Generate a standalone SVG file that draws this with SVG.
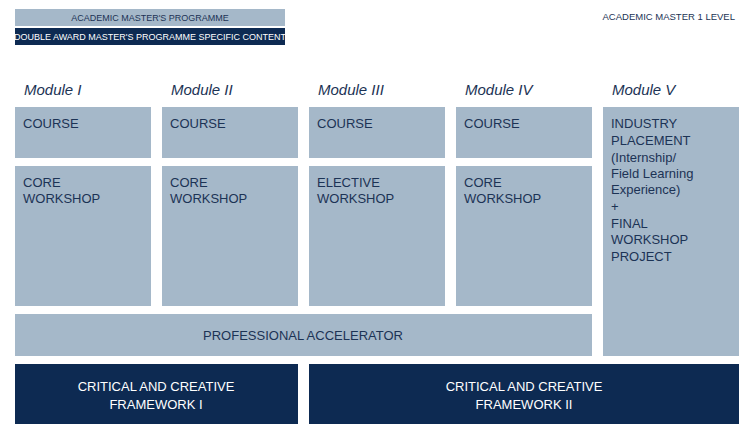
<svg xmlns="http://www.w3.org/2000/svg" width="742" height="428" viewBox="0 0 742 428">
<style>
.l{fill:#a5b8c9}
.d{fill:#0d2a52}
text{font-family:"Liberation Sans",Arial,sans-serif;fill:#1c3355}
.t{font-size:13px}
.h{font-size:15px;font-style:italic}
.w{fill:#fff;font-size:13px}
.s{font-size:9px}
</style>
<rect width="742" height="428" fill="#fff"/>
<g id="legend">
<rect class="l" x="15" y="9" width="270" height="17"/>
<text class="s" x="150" y="21" text-anchor="middle">ACADEMIC MASTER'S PROGRAMME</text>
<rect class="d" x="15" y="28" width="270" height="17"/>
<text class="s" x="150" y="40" text-anchor="middle" style="fill:#fff">DOUBLE AWARD MASTER'S PROGRAMME SPECIFIC CONTENT</text>
<text class="s" x="735" y="20" text-anchor="end" style="font-size:9.5px">ACADEMIC MASTER 1 LEVEL</text>
</g>
<g id="titles">
<text class="h" x="24" y="95">Module I</text>
<text class="h" x="171" y="95">Module II</text>
<text class="h" x="318" y="95">Module III</text>
<text class="h" x="465" y="95">Module IV</text>
<text class="h" x="612" y="95">Module V</text>
</g>
<g id="m1"><rect class="l" x="15" y="107" width="136" height="51"/><text class="t" x="23" y="128">COURSE</text>
<rect class="l" x="15" y="166" width="136" height="140"/><text class="t" x="23" y="187">CORE</text><text class="t" x="23" y="203">WORKSHOP</text></g>
<g id="m2"><rect class="l" x="162" y="107" width="136" height="51"/><text class="t" x="170" y="128">COURSE</text>
<rect class="l" x="162" y="166" width="136" height="140"/><text class="t" x="170" y="187">CORE</text><text class="t" x="170" y="203">WORKSHOP</text></g>
<g id="m3"><rect class="l" x="309" y="107" width="136" height="51"/><text class="t" x="317" y="128">COURSE</text>
<rect class="l" x="309" y="166" width="136" height="140"/><text class="t" x="317" y="187">ELECTIVE</text><text class="t" x="317" y="203">WORKSHOP</text></g>
<g id="m4"><rect class="l" x="456" y="107" width="136" height="51"/><text class="t" x="464" y="128">COURSE</text>
<rect class="l" x="456" y="166" width="136" height="140"/><text class="t" x="464" y="187">CORE</text><text class="t" x="464" y="203">WORKSHOP</text></g>
<g id="m5"><rect class="l" x="603" y="107" width="136" height="249"/>
<text class="t" x="611" y="128">INDUSTRY</text><text class="t" x="611" y="145">PLACEMENT</text><text class="t" x="611" y="162">(Internship/</text><text class="t" x="611" y="178">Field Learning</text><text class="t" x="611" y="194">Experience)</text><text class="t" x="611" y="211">+</text><text class="t" x="611" y="228">FINAL</text><text class="t" x="611" y="244">WORKSHOP</text><text class="t" x="611" y="261">PROJECT</text></g>
<g id="accel"><rect class="l" x="15" y="314" width="577" height="42"/><text class="t" x="303" y="340" text-anchor="middle">PROFESSIONAL ACCELERATOR</text></g>
<g id="f1"><rect class="d" x="15" y="364" width="283" height="60"/><text class="w" x="156" y="391" text-anchor="middle">CRITICAL AND CREATIVE</text><text class="w" x="156" y="409" text-anchor="middle">FRAMEWORK I</text></g>
<g id="f2"><rect class="d" x="309" y="364" width="430" height="60"/><text class="w" x="524" y="391" text-anchor="middle">CRITICAL AND CREATIVE</text><text class="w" x="524" y="409" text-anchor="middle">FRAMEWORK II</text></g>
<g id="connectors"/>
</svg>
